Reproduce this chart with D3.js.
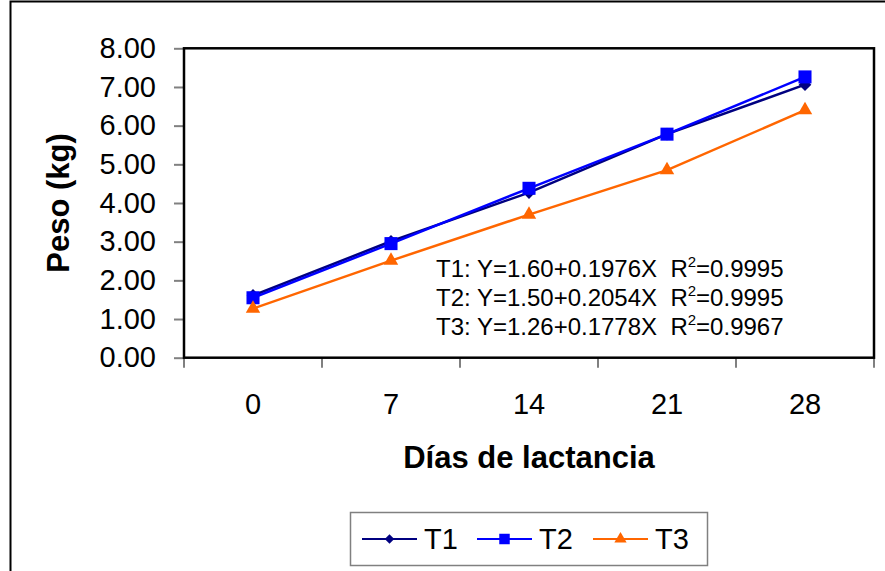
<!DOCTYPE html>
<html>
<head>
<meta charset="utf-8">
<script src="https://cdn.jsdelivr.net/npm/d3@7"></script>
<style>
  html, body { margin: 0; padding: 0; background: #fff; }
  svg { display: block; font-family: "Liberation Sans", Arial, sans-serif; }
</style>
</head>
<body>
<div id="chart"></div>
<script>
// chart data
const days = ['0', '7', '14', '21', '28'];
const t1 = [1.61, 3.01, 4.27, 5.78, 7.06];
const t2 = [1.55, 2.95, 4.38, 5.78, 7.26];
const t3 = [1.27, 2.51, 3.70, 4.85, 6.40];
const seriesNames = ['T1', 'T2', 'T3'];
const yTicks = [0, 1, 2, 3, 4, 5, 6, 7, 8];
const equations = [
  ['T1: Y=1.60+0.1976X  R', '=0.9995'],
  ['T2: Y=1.50+0.2054X  R', '=0.9995'],
  ['T3: Y=1.26+0.1778X  R', '=0.9967']
];

const width = 885;
const height = 571;
const plot = { left: 184, right: 874, top: 48.3, bottom: 357.7 };

const colors = ['#000080', '#0000ff', '#ff6600'];

// diamond symbol: half-diagonal r, area 2r^2
const symbolRhomb = {
  draw(ctx, size) {
    const r = Math.sqrt(size / 2);
    ctx.moveTo(0, -r);
    ctx.lineTo(r, 0);
    ctx.lineTo(0, r);
    ctx.lineTo(-r, 0);
    ctx.closePath();
  }
};
const symbols = [symbolRhomb, d3.symbolSquare, d3.symbolTriangle];
const symbolSizes = [80, 170, 90];
const legendSizes = [45, 110, 65];

const svg = d3.select('#chart')
  .append('svg')
  .attr('width', width)
  .attr('height', height);

// outer frame
svg.append('rect')
  .attr('x', 10.5).attr('y', 1.5)
  .attr('width', 900).attr('height', 620)
  .attr('fill', '#fff')
  .attr('stroke', '#000')
  .attr('stroke-width', 2);

const x = d3.scaleBand().domain(days).range([plot.left, plot.right]).padding(0);
const y = d3.scaleLinear().domain([0, 8]).range([plot.bottom, plot.top]);

// y axis
const gy = svg.append('g')
  .attr('transform', `translate(${plot.left},0)`)
  .call(d3.axisLeft(y).tickValues(yTicks).tickFormat(d3.format('.2f')).tickSize(10).tickPadding(18));
gy.select('.domain').remove();
gy.selectAll('.tick line').attr('stroke', '#808080').attr('stroke-width', 2);
gy.selectAll('.tick text')
  .attr('font-size', 29)
  .attr('fill', '#000')
  .attr('font-family', '"Liberation Sans", Arial, sans-serif');

// x axis: ticks at band edges
const gx = svg.append('g')
  .attr('transform', `translate(0,${plot.bottom})`)
  .call(d3.axisBottom(x).tickSize(0).tickPadding(36));
gx.select('.domain').remove();
gx.selectAll('.tick text')
  .attr('font-size', 29)
  .attr('fill', '#000')
  .attr('font-family', '"Liberation Sans", Arial, sans-serif');
const edges = days.map(d => x(d)).concat([x(days[days.length - 1]) + x.bandwidth()]);
svg.append('g')
  .selectAll('line')
  .data(edges)
  .join('line')
  .attr('x1', d => d).attr('x2', d => d)
  .attr('y1', plot.bottom).attr('y2', plot.bottom + 10)
  .attr('stroke', '#808080')
  .attr('stroke-width', 2);

// plot border
svg.append('rect')
  .attr('x', plot.left).attr('y', plot.top)
  .attr('width', plot.right - plot.left)
  .attr('height', plot.bottom - plot.top)
  .attr('fill', 'none')
  .attr('stroke', '#000')
  .attr('stroke-width', 2.5);

// axis titles
svg.append('text')
  .attr('x', (plot.left + plot.right) / 2)
  .attr('y', 468)
  .attr('text-anchor', 'middle')
  .attr('font-size', 31)
  .attr('font-weight', 'bold')
  .text('Días de lactancia');

svg.append('text')
  .attr('transform', `translate(69,${(plot.top + plot.bottom) / 2}) rotate(-90)`)
  .attr('text-anchor', 'middle')
  .attr('font-size', 31)
  .attr('font-weight', 'bold')
  .text('Peso (kg)');

// series
const series = [t1, t2, t3];
const cx = d => x(d) + x.bandwidth() / 2;
const line = d3.line().x((d, i) => cx(days[i])).y(d => y(d));

series.forEach((values, s) => {
  const g = svg.append('g');
  g.append('path')
    .datum(values)
    .attr('d', line)
    .attr('fill', 'none')
    .attr('stroke', colors[s])
    .attr('stroke-width', 2.5);
  g.selectAll('path.marker')
    .data(values)
    .join('path')
    .attr('class', 'marker')
    .attr('transform', (d, i) => `translate(${cx(days[i])},${y(d)})`)
    .attr('d', d3.symbol().type(symbols[s]).size(symbolSizes[s]))
    .attr('fill', colors[s]);
});

// regression equations
const eq = svg.append('g').attr('font-size', 24).attr('fill', '#000');
equations.forEach((e, i) => {
  const t = eq.append('text')
    .attr('x', 436)
    .attr('y', 276.7 + i * 29.3)
    .attr('xml:space', 'preserve');
  t.append('tspan').text(e[0]);
  t.append('tspan').attr('font-size', 15).attr('dy', -10).text('2');
  t.append('tspan').attr('dy', 10).text(e[1]);
});

// legend
const legend = svg.append('g');
legend.append('rect')
  .attr('x', 350.5).attr('y', 512.5)
  .attr('width', 357).attr('height', 53)
  .attr('fill', '#fff')
  .attr('stroke', '#808080')
  .attr('stroke-width', 1.5);

const legendX = [362, 477, 593];
seriesNames.forEach((name, s) => {
  const lx = legendX[s];
  const ly = 539;
  legend.append('line')
    .attr('x1', lx).attr('x2', lx + 55)
    .attr('y1', ly).attr('y2', ly)
    .attr('stroke', colors[s])
    .attr('stroke-width', 2);
  legend.append('path')
    .attr('transform', `translate(${lx + 27.5},${ly})`)
    .attr('d', d3.symbol().type(symbols[s]).size(legendSizes[s]))
    .attr('fill', colors[s]);
  legend.append('text')
    .attr('x', lx + 62)
    .attr('y', ly)
    .attr('dy', '0.35em')
    .attr('font-size', 29)
    .text(name);
});
</script>
</body>
</html>
